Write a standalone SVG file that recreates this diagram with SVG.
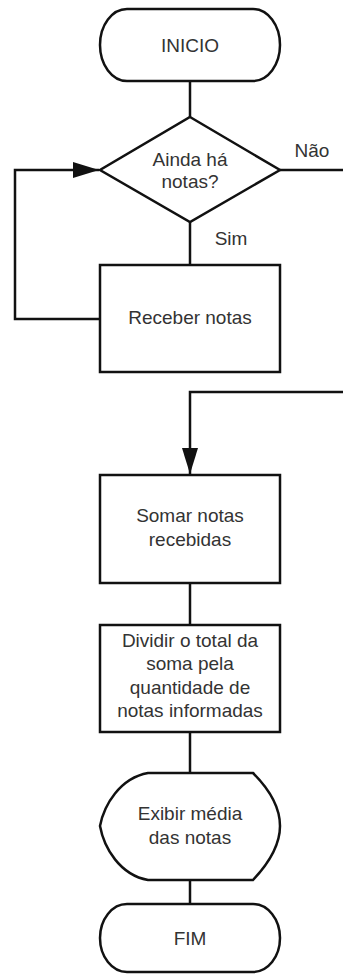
<svg xmlns="http://www.w3.org/2000/svg" width="343" height="974" viewBox="0 0 343 974">
<style>
.s{fill:#fff;stroke:#111;stroke-width:2.5;stroke-linejoin:miter}
.c{fill:none;stroke:#111;stroke-width:2.5}
text{font-family:"Liberation Sans",Arial,sans-serif;font-size:19px;fill:#333;text-anchor:middle}
</style>
<defs>
<marker id="ah" markerUnits="userSpaceOnUse" markerWidth="28" markerHeight="18" refX="26" refY="8" orient="auto">
<path d="M0,0 L26,8 L0,16 Z" fill="#111"/>
</marker>
</defs>
<rect width="343" height="974" fill="#fff"/>
<g id="connectors">
<path class="c" d="M190,81 V117"/>
<path class="c" d="M280,170 H343"/>
<path class="c" d="M190,222 V265"/>
<path class="c" d="M100,319 H15 V170 H99" marker-end="url(#ah)"/>
<path class="c" d="M343,392 H190 V474" marker-end="url(#ah)"/>
<path class="c" d="M190,583 V625"/>
<path class="c" d="M190,732 V773"/>
<path class="c" d="M190,880 V904"/>
<text x="312" y="157">Não</text>
<text x="231" y="245">Sim</text>
</g>
<g id="inicio">
<path class="s" d="M127,9 H253 A27,36 0 0 1 253,81 H127 A27,36 0 0 1 127,9 Z"/>
<text x="190" y="52">INICIO</text>
</g>
<g id="decisao">
<path class="s" d="M190,117 L280,170 L190,222 L100,170 Z"/>
<text x="190" y="166">Ainda há</text>
<text x="190" y="188">notas?</text>
</g>
<g id="receber">
<rect class="s" x="100" y="265" width="180" height="107"/>
<text x="190" y="324">Receber notas</text>
</g>
<g id="somar">
<rect class="s" x="100" y="475" width="180" height="108"/>
<text x="190" y="522">Somar notas</text>
<text x="190" y="546">recebidas</text>
</g>
<g id="dividir">
<rect class="s" x="100" y="625" width="180" height="107"/>
<text x="190" y="647">Dividir o total da</text>
<text x="190" y="670">soma pela</text>
<text x="190" y="694">quantidade de</text>
<text x="190" y="717">notas informadas</text>
</g>
<g id="exibir">
<path class="s" d="M148,773 H253 C270,790 280,808 280,826 C280,845 270,862 253,880 H148 C120,875 104,848 100,826 C104,805 120,778 148,773 Z"/>
<text x="190" y="820">Exibir média</text>
<text x="190" y="844">das notas</text>
</g>
<g id="fim">
<path class="s" d="M127,904 H253 A27,34 0 0 1 253,972 H127 A27,34 0 0 1 127,904 Z"/>
<text x="190" y="945">FIM</text>
</g>
</svg>
